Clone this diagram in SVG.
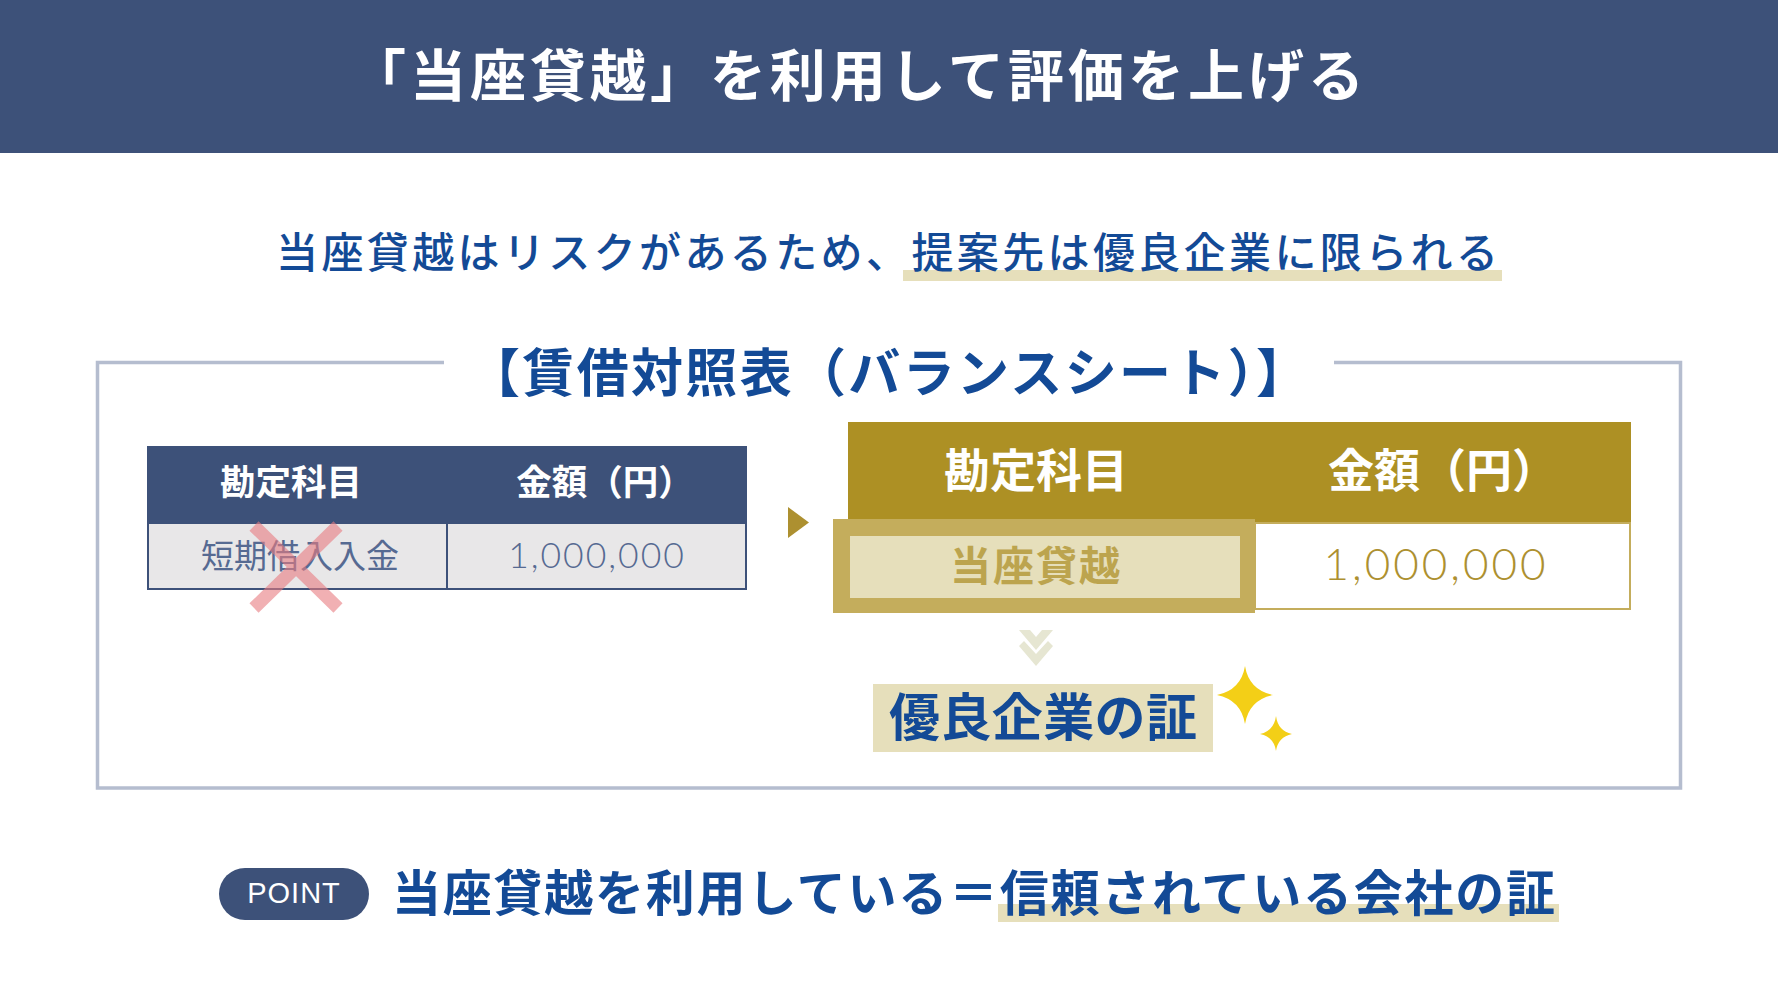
<svg xmlns="http://www.w3.org/2000/svg" width="1778" height="1000" viewBox="0 0 1778 1000">
<style>
text{font-family:"Noto Sans CJK JP","Noto Sans",sans-serif;}
.c{text-anchor:middle}
.b{font-weight:700}
.m{font-weight:500}
.blue{fill:#134a96}
.w{fill:#fff}
.hl{fill:#e6dfbb}
.num{font-family:"Lato","Noto Sans",sans-serif;font-weight:300;}
</style>
<rect width="1778" height="1000" fill="#fff"/>
<g id="header"><rect width="1778" height="153" fill="#3d5179"/>
<text class="b w" x="350" y="96" font-size="56" textLength="1014" lengthAdjust="spacing">「当座貸越」を利用して評価を上げる</text></g>
<g id="subtitle"><rect class="hl" x="903" y="270" width="599" height="11"/>
<text class="m blue" x="276" y="268" font-size="42" textLength="1222" lengthAdjust="spacing">当座貸越はリスクがあるため、提案先は優良企業に限られる</text></g>
<g id="frame"><path d="M444 362.500H97.500V788H1680.500V362.500H1334" fill="none" stroke="#b5bdcf" stroke-width="3.500"/>
<text class="b blue" x="468" y="392" font-size="52" textLength="840" lengthAdjust="spacing">【賃借対照表（バランスシート）】</text></g>
<g id="table-before"><rect x="147" y="446" width="600" height="77" fill="#3d5179"/>
<rect x="148" y="523" width="598" height="66" fill="#e8e7e8" stroke="#3d5179" stroke-width="2"/>
<path d="M447 523V590" stroke="#3d5179" stroke-width="2"/>
<text class="b w c" x="291" y="495" font-size="35.500">勘定科目</text>
<text class="b w c" x="605" y="495" font-size="35.500">金額（円）</text>
<text class="c" x="300" y="568" font-size="33" fill="#566a92">短期借入入金</text>
<text class="c num" x="597" y="568" font-size="35.500" letter-spacing="2" fill="#566a92">1,000,000</text>
<path d="M254 526L338 608M338 526L254 608" stroke="#e77c80" stroke-opacity=".6" stroke-width="13"/></g>
<g id="arrow"><path d="M788 507L809 522.500L788 538Z" fill="#ad9030"/></g>
<g id="table-after"><rect x="848" y="422" width="783" height="100" fill="#ad9024"/>
<rect x="1255" y="523" width="375" height="86" fill="#fff" stroke="#c4ad5c" stroke-width="2"/>
<text class="b w c" x="1036" y="487" font-size="46">勘定科目</text>
<text class="b w c" x="1443" y="487" font-size="46">金額（円）</text>
<rect x="833" y="519" width="422" height="94" fill="#c4ad5c"/>
<rect class="hl" x="850" y="536" width="390" height="62"/>
<text class="b c" x="1036" y="581" font-size="41" letter-spacing="2" fill="#bca44e">当座貸越</text>
<text class="c num" x="1436" y="580" font-size="44" letter-spacing="3" fill="#ad9030">1,000,000</text></g>
<g id="chevrons" fill="#e6e6d2"><path d="M1019 630H1030L1036 637L1042 630H1053L1036 650Z"/><path d="M1019 646L1024 641L1036 654L1048 641L1053 646L1036 666Z"/></g>
<g id="badge"><rect class="hl" x="873" y="684" width="340" height="68"/>
<text class="b blue" x="889" y="736" font-size="51" textLength="308" lengthAdjust="spacing">優良企業の証</text></g>
<g id="sparkles" fill="#f3cf17"><path d="M1245 666Q1249 690 1273 695Q1249 700 1245 724Q1241 700 1217 695Q1241 690 1245 666Z"/><path d="M1276 716Q1278 731 1292 734Q1278 737 1276 751Q1274 737 1260 734Q1274 731 1276 716Z"/></g>
<g id="point"><rect class="hl" x="998" y="904" width="561" height="18"/>
<rect x="219" y="868" width="150" height="52" rx="26" fill="#3d5179"/>
<text class="c w" x="294" y="903" font-size="29" style="font-family:'Liberation Sans',sans-serif" letter-spacing="1">POINT</text>
<text class="b blue" x="392" y="911" font-size="49" textLength="1163" lengthAdjust="spacing">当座貸越を利用している＝信頼されている会社の証</text></g>
</svg>
